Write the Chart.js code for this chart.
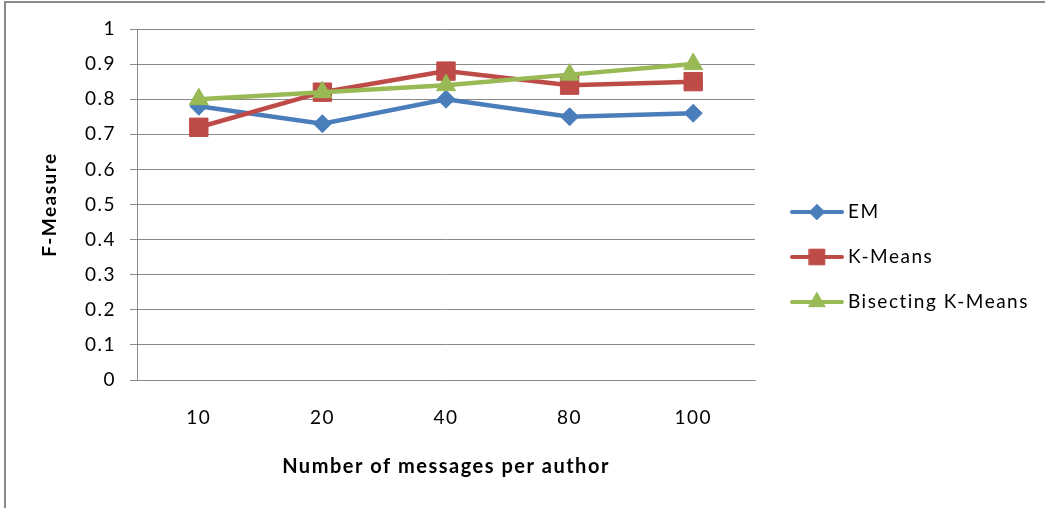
<!DOCTYPE html>
<html>
<head>
<meta charset="utf-8">
<script src="https://cdn.jsdelivr.net/npm/chart.js@4/dist/chart.umd.min.js"></script>
<style>
  html, body { margin: 0; padding: 0; background: #fff; }
  #wrap { position: relative; width: 1045px; height: 508px; }
</style>
</head>
<body>
<div id="wrap"><canvas id="c" width="1045" height="508"></canvas></div>
<script>
// Categories: number of messages per author
const categories = ['10', '20', '40', '80', '100'];

// F-Measure per clustering method
const emValues = [0.78, 0.73, 0.80, 0.75, 0.76];
const kMeansValues = [0.72, 0.82, 0.88, 0.84, 0.85];
const bisectingValues = [0.80, 0.82, 0.84, 0.87, 0.90];

// Y axis range
const yMin = 0;
const yMax = 1;
const yStep = 0.1;

const seriesNames = ['EM', 'K-Means', 'Bisecting K-Means'];
const seriesColors = ['#4a7ebb', '#be4b48', '#98b954'];
const seriesMarkers = ['rectRot', 'rect', 'triangle'];
const markerRadii = [9, 13, 11];

const FONT = 'Lato, "Liberation Sans", "DejaVu Sans", sans-serif';
const GRID = '#8a8a8a';
const SPACING = '1.5px';

// Loose glyph spacing for all chart text (set before layout and before drawing,
// since resizing the canvas resets the context state)
const spacingPlugin = {
  id: 'spacing',
  beforeUpdate(chart) { chart.ctx.letterSpacing = SPACING; },
  beforeLayout(chart) { chart.ctx.letterSpacing = SPACING; },
  beforeDraw(chart) { chart.ctx.letterSpacing = SPACING; }
};

// Outer frame: left and top edges of the chart box
const framePlugin = {
  id: 'frame',
  beforeDraw(chart) {
    const ctx = chart.ctx;
    ctx.save();
    ctx.fillStyle = '#ffffff';
    ctx.fillRect(0, 0, chart.width, chart.height);
    ctx.strokeStyle = '#8a8a8a';
    ctx.lineWidth = 2;
    ctx.beginPath();
    ctx.moveTo(5, chart.height);
    ctx.lineTo(5, 2);
    ctx.lineTo(chart.width, 2);
    ctx.stroke();
    ctx.restore();
  }
};

// Legend: short line with marker, followed by the series name
const legendPlugin = {
  id: 'lineLegend',
  afterDraw(chart) {
    const ctx = chart.ctx;
    const x0 = 792, x1 = 842, textX = 848;
    const rows = [212, 257, 302];
    ctx.save();
    chart.data.datasets.forEach((ds, i) => {
      const y = rows[i];
      ctx.strokeStyle = ds.borderColor;
      ctx.lineWidth = 4;
      ctx.lineCap = 'round';
      ctx.beginPath();
      ctx.moveTo(x0, y);
      ctx.lineTo(x1, y);
      ctx.stroke();
      ctx.fillStyle = ds.pointBackgroundColor;
      ctx.strokeStyle = ds.pointBorderColor;
      ctx.lineWidth = 1;
      Chart.helpers.drawPoint(ctx, {
        pointStyle: ds.pointStyle,
        radius: ds.pointRadius * 0.85,
        rotation: 0,
        borderWidth: 1
      }, (x0 + x1) / 2, y);
      ctx.fillStyle = '#000';
      ctx.font = '19px ' + FONT;
      ctx.letterSpacing = SPACING;
      ctx.textBaseline = 'middle';
      ctx.textAlign = 'left';
      ctx.fillText(ds.label, textX, y);
    });
    ctx.restore();
  }
};

const valueSets = [emValues, kMeansValues, bisectingValues];
const datasets = valueSets.map((vals, i) => ({
  label: seriesNames[i],
  data: vals,
  borderColor: seriesColors[i],
  backgroundColor: seriesColors[i],
  borderWidth: 4.5,
  tension: 0,
  pointStyle: seriesMarkers[i],
  pointRadius: markerRadii[i],
  pointHoverRadius: markerRadii[i],
  pointBackgroundColor: seriesColors[i],
  pointBorderColor: seriesColors[i],
  pointBorderWidth: 1,
  order: 2 - i
}));

new Chart(document.getElementById('c'), {
  type: 'line',
  data: { labels: categories, datasets },
  plugins: [spacingPlugin, framePlugin, legendPlugin],
  options: {
    responsive: false,
    animation: false,
    devicePixelRatio: 1,
    layout: { padding: { left: 0, top: 29, right: 290, bottom: 0 } },
    plugins: {
      legend: { display: false },
      tooltip: { enabled: false }
    },
    scales: {
      x: {
        offset: true,
        grid: { display: false, drawTicks: false },
        border: { display: true, color: GRID, width: 1 },
        ticks: { color: '#000', font: { family: FONT, size: 19 }, padding: 26 },
        title: {
          display: true,
          text: 'Number of messages per author',
          color: '#000',
          font: { family: FONT, size: 20, weight: 'bold' },
          padding: { top: 0, bottom: 29 }
        },
        afterFit(s) { s.height = 128; }
      },
      y: {
        min: yMin,
        max: yMax,
        ticks: {
          stepSize: yStep,
          color: '#000',
          font: { family: FONT, size: 19 },
          padding: 14,
          callback: v => String(+v.toFixed(1))
        },
        grid: { color: GRID, lineWidth: 1, tickLength: 7, tickColor: GRID },
        border: { display: true, color: GRID, width: 1 },
        title: {
          display: true,
          text: 'F-Measure',
          color: '#000',
          font: { family: FONT, size: 19, weight: 'bold' },
          padding: { top: 38, bottom: 0 }
        },
        afterFit(s) { s.width = 137; }
      }
    }
  }
});
</script>
</body>
</html>
